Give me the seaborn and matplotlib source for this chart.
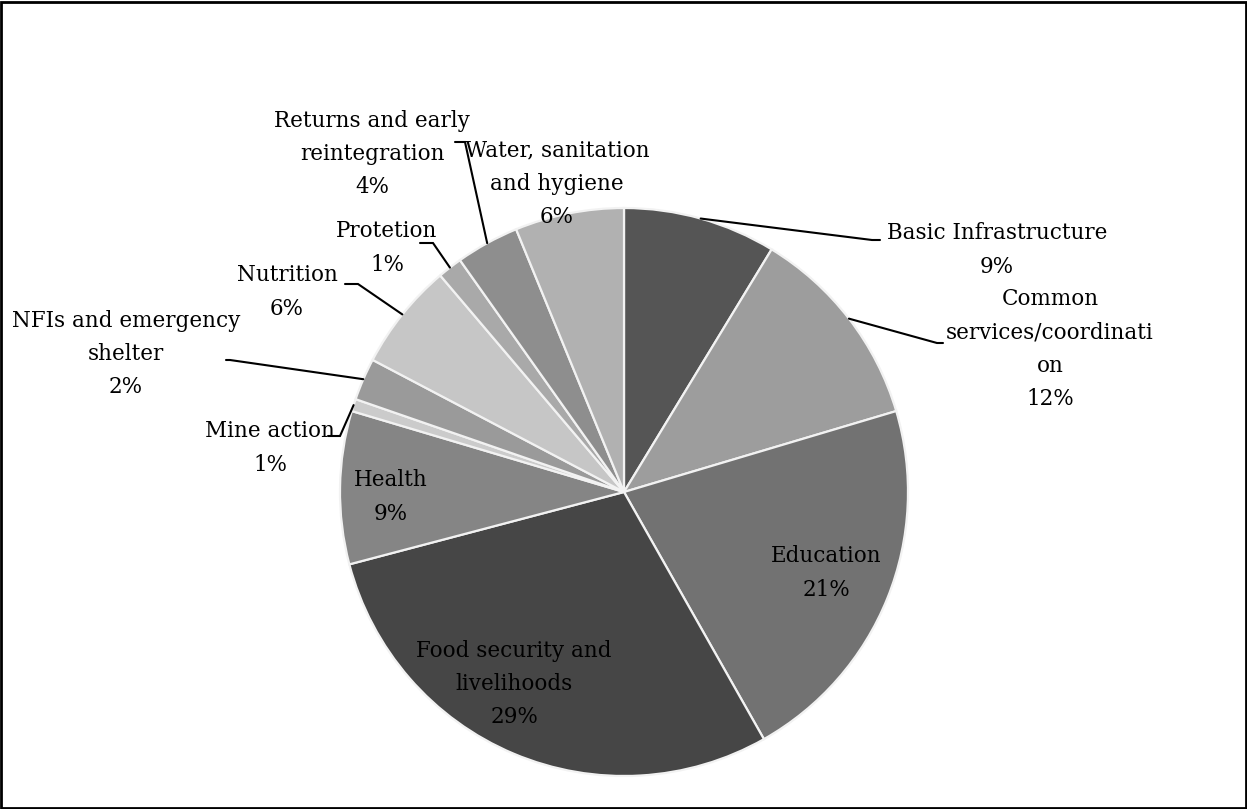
import matplotlib
matplotlib.use("Agg")
import matplotlib.pyplot as plt
import seaborn as sns
import numpy as np
from matplotlib.patches import Rectangle

# ---- data (clockwise from 12 o'clock) ----
categories = [
    "Basic Infrastructure",
    "Common\nservices/coordinati\non",
    "Education",
    "Food security and\nlivelihoods",
    "Health",
    "Mine action",
    "NFIs and emergency\nshelter",
    "Nutrition",
    "Protetion",
    "Returns and early\nreintegration",
    "Water, sanitation\nand hygiene",
]
values = [8.7, 11.7, 21.4, 29.1, 8.7, 0.7, 2.4, 6.1, 1.4, 3.6, 6.2]
colors = ["#555555", "#9d9d9d", "#727272", "#464646", "#858585", "#cbcbcb",
          "#9a9a9a", "#c6c6c6", "#a9a9a9", "#8e8e8e", "#b1b1b1"]

# label block centres in pixels, and leader elbows (None = inside, no leader)
label_px = [(997, 250), (1050, 349), (826, 573), (514, 684), (391, 497),
            (270, 448), (126, 354), (287, 292), (387, 248), (372, 154), (557, 184)]
leader_px = [((872, 240), (880, 240)), ((937, 343), (943, 343)), None, None, None,
             ((340, 436), (328, 436)), ((230, 360), (226, 360)),
             ((358, 284), (345, 284)), ((433, 243), (420, 243)),
             ((465, 142), (455, 142)), None]

sns.set_theme(style="white")
plt.rcParams['font.family'] = ['DejaVu Serif']

W, H = 1247, 809
CX, CY, R = 624, 492, 284
fig = plt.figure(figsize=(W / 100, H / 100), dpi=100)
ax = fig.add_axes([0, 0, 1, 1])
ax.axis("off")


def px(p):
    return ((p[0] - CX) / R, (CY - p[1]) / R)


wedges, _ = ax.pie(values, colors=colors, startangle=90, counterclock=False,
                   radius=1.0, center=(0, 0),
                   wedgeprops=dict(edgecolor="#f2f2f2", linewidth=1.6))
ax.set_aspect("auto")
ax.set_xlim(-CX / R, (W - CX) / R)
ax.set_ylim(-(H - CY) / R, CY / R)

for i, (cat, v) in enumerate(zip(categories, values)):
    txt = f"{cat}\n{round(v)}%"
    x, y = px(label_px[i])
    ax.text(x, y, txt, ha="center", va="center", multialignment="center",
            fontsize=15.5, color="black", linespacing=1.66)
    if leader_px[i] is not None:
        w = wedges[i]
        mid = np.deg2rad((w.theta1 + w.theta2) / 2)
        p0 = (np.cos(mid), np.sin(mid))
        e1 = px(leader_px[i][0])
        e2 = px(leader_px[i][1])
        ax.plot([p0[0], e1[0], e2[0]], [p0[1], e1[1], e2[1]],
                color="black", lw=1.5, solid_joinstyle="miter")

fig.patches.append(Rectangle((0.001, 0.001), 0.998, 0.997, transform=fig.transFigure,
                             fill=False, edgecolor="black", linewidth=2))
fig.savefig("out.png", dpi=100)
